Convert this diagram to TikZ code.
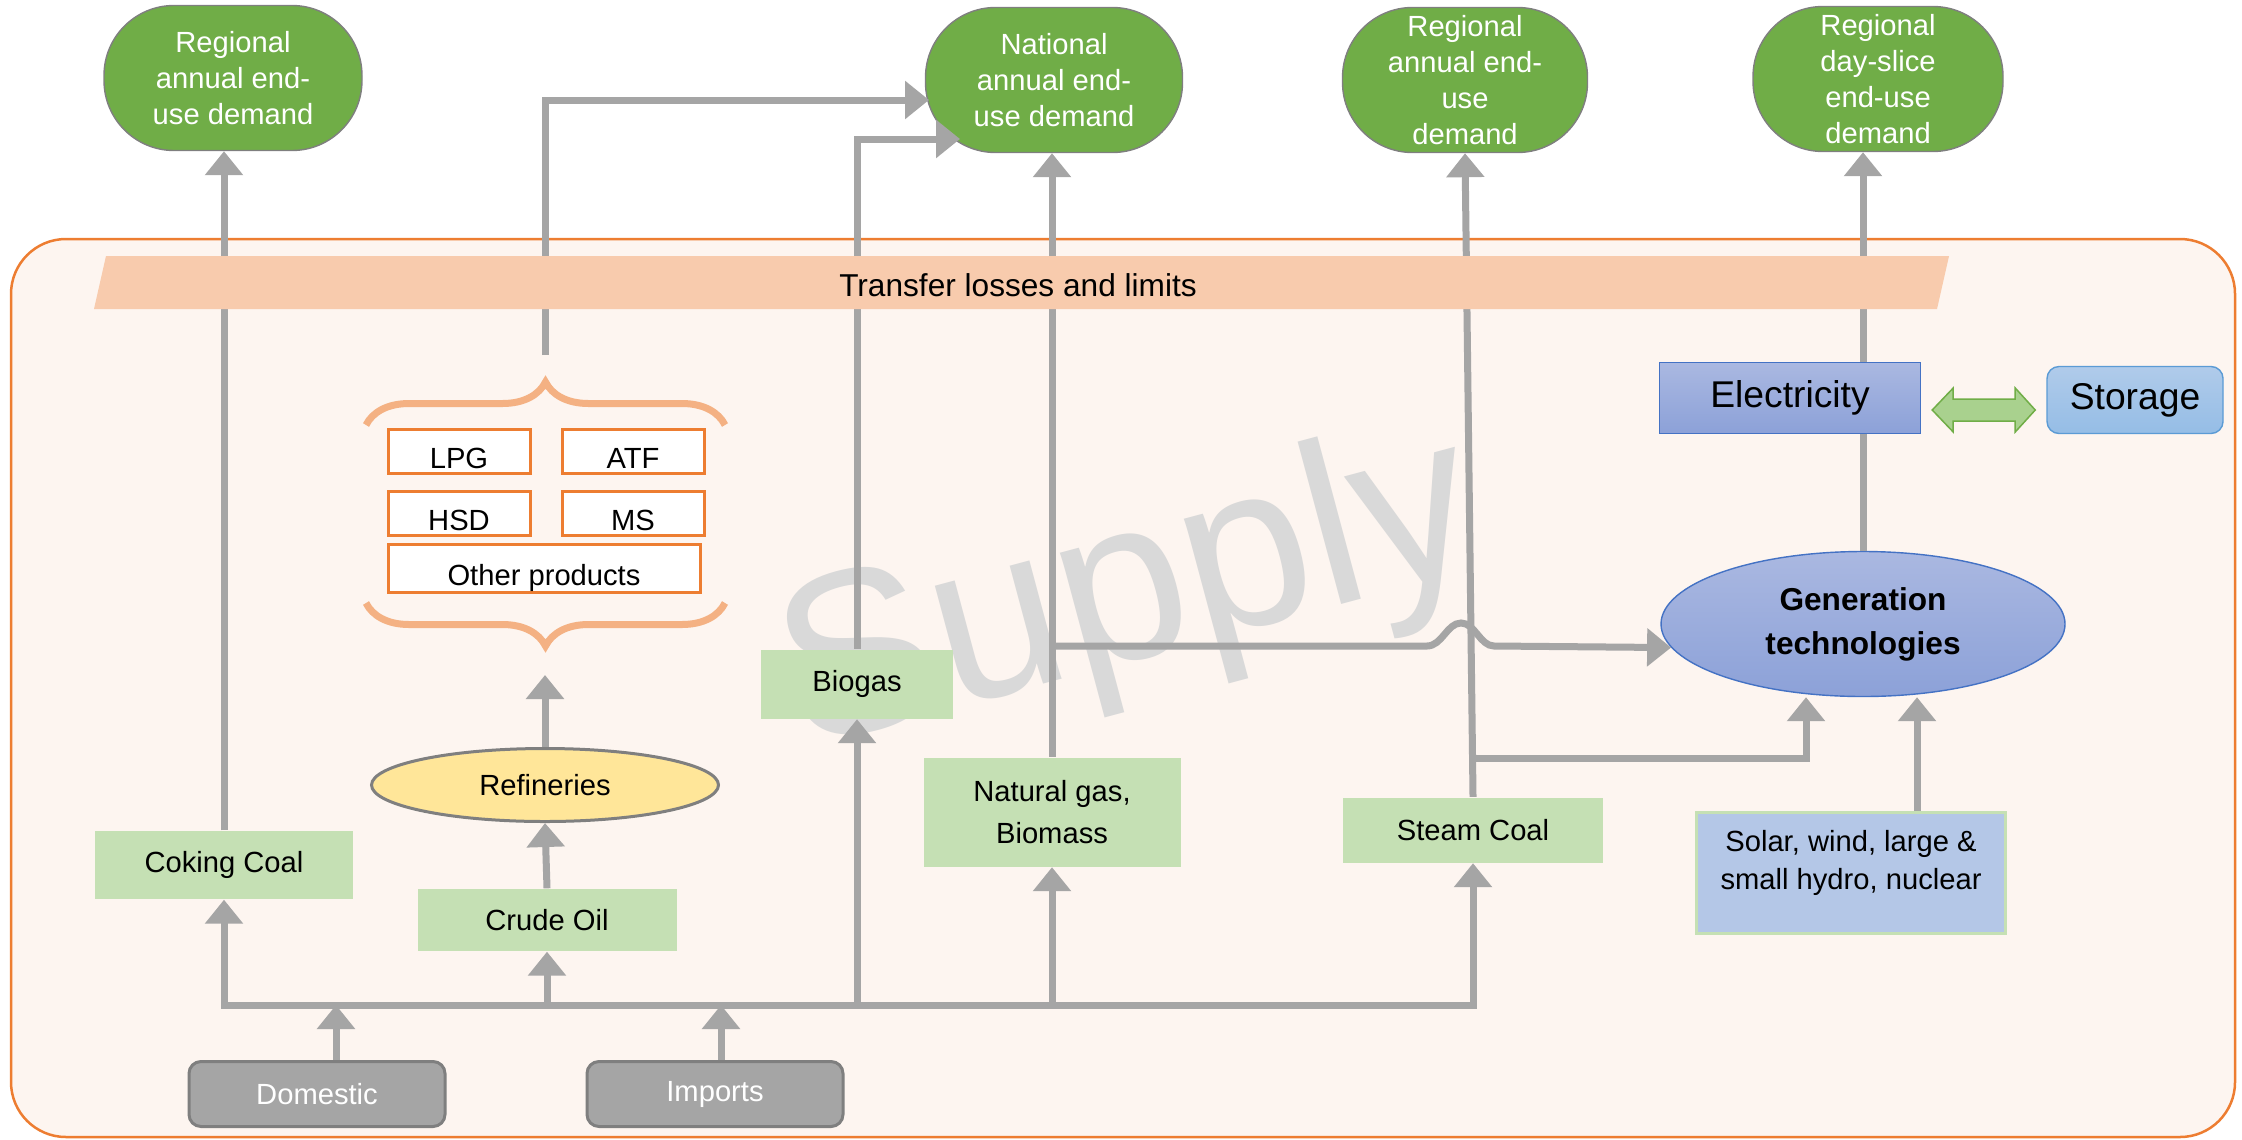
\documentclass[tikz,border=0pt]{standalone}
\usepackage{fontspec}
\setmainfont{Liberation Sans}
\usepackage{xcolor}
\usetikzlibrary{arrows.meta,shapes.geometric,decorations.pathreplacing,positioning,calc}

\definecolor{supfill}{HTML}{FDF5F0}
\definecolor{suporange}{HTML}{ED7D31}
\definecolor{demgreen}{HTML}{70AD47}
\definecolor{srcgreen}{HTML}{C5E0B4}
\definecolor{bandpeach}{HTML}{F8CBAD}
\definecolor{bracepeach}{HTML}{F4B183}
\definecolor{flowgray}{HTML}{A5A5A5}
\definecolor{edgegray}{HTML}{7F7F7F}
\definecolor{electop}{HTML}{AAB8E1}
\definecolor{elecbot}{HTML}{8CA1D8}
\definecolor{elecline}{HTML}{4472C4}
\definecolor{stortop}{HTML}{B0CBEA}
\definecolor{storbot}{HTML}{95BDE6}
\definecolor{storline}{HTML}{5B9BD5}
\definecolor{solarblue}{HTML}{B4C7E7}
\definecolor{refyellow}{HTML}{FFE699}
\definecolor{dblgreen}{HTML}{A9D18E}
\definecolor{markgray}{HTML}{D9D9D9}

\begin{document}
\begin{tikzpicture}[x=0.1mm, y=-0.1mm, font=\fontsize{8.3}{10.2}\selectfont,
        demand/.style = {draw=edgegray, fill=demgreen, text=white, rounded corners=7mm, align=center, minimum height=14.5mm, inner sep=0pt},
        src/.style = {fill=srcgreen, align=center, inner sep=0pt},
        prod/.style = {draw=suporange, line width=0.3mm, fill=white, minimum width=14.2mm, minimum height=4.4mm, inner sep=0pt, text height=3.4mm, text depth=0pt},
        origin/.style = {draw=edgegray, line width=0.3mm, fill=flowgray, text=white, rounded corners=1.2mm, minimum width=25.6mm, minimum height=6.5mm},
        elecbox/.style = {draw=elecline, top color=electop, bottom color=elecbot},
        pipe/.style = {draw=flowgray, line width=0.7mm},
        flow/.style = {pipe, -{Triangle[width=3.7mm,length=2.4mm]}}]
        \useasboundingbox (0,0) rectangle (2242,1139);
        \draw[suporange, line width=0.25mm, fill=supfill, rounded corners=5.5mm] (11,239) rectangle (2235,1137);
        \node[text=markgray, font=\fontsize{66}{66}\selectfont, rotate=15, inner sep=0pt] (mark) at (1130,599) {Supply};

        \node[demand, minimum width=25.8mm] (d1) at (233,78) {Regional\\annual end-\\use demand};
        \node[demand, minimum width=25.7mm] (d2) at (1054,80) {National\\annual end-\\use demand};
        \node[demand, minimum width=24.5mm] (d3) at (1465,80) {Regional\\annual end-\\use\\demand};
        \node[demand, minimum width=25mm] (d4) at (1878,79) {Regional\\day-slice\\end-use\\demand};

        \node[elecbox, minimum width=26.1mm, minimum height=7.1mm, font=\fontsize{10.6}{12}\selectfont] (elec) at (1790,398) {Electricity};
        \node[draw=storline, top color=stortop, bottom color=storbot, rounded corners=1.2mm, minimum width=17.6mm, minimum height=6.7mm, font=\fontsize{10.6}{12}\selectfont] (stor) at (2135,400) {Storage};
        \node[elecbox, ellipse, minimum width=40.4mm, minimum height=14.5mm, align=center, font=\bfseries\fontsize{9}{12.5}\selectfont] (gen) at (1863,624) {Generation\\technologies};
        \node[draw=srcgreen, fill=solarblue, line width=0.3mm, minimum width=30.9mm, minimum height=12.1mm, align=center, text depth=2.6mm, font=\fontsize{8.3}{10.9}\selectfont] (solar) at (1851,873) {Solar, wind, large \&\\small hydro, nuclear};

        \node[src, minimum width=25.8mm, minimum height=6.8mm] (cc) at (224,865) {Coking Coal};
        \node[src, minimum width=25.9mm, minimum height=6.2mm] (crude) at (547,920) {Crude Oil};
        \node[draw=edgegray, fill=refyellow, ellipse, line width=0.3mm, minimum width=34.7mm, minimum height=7.3mm, inner sep=0pt] (ref) at (545,785) {Refineries};
        \node[src, minimum width=19.2mm, minimum height=6.9mm] (bg) at (857,684) {Biogas};
        \node[src, minimum width=25.7mm, minimum height=10.9mm, font=\fontsize{8.3}{12}\selectfont] (ng) at (1052,812) {Natural gas,\\Biomass};
        \node[src, minimum width=26mm, minimum height=6.5mm] (sc) at (1473,830) {Steam Coal};
        \node[origin] (dom) at (317,1094) {Domestic};
        \node[origin] (imp) at (715,1094) {Imports};

        \node[prod] (lpg) at (459,451) {LPG};
        \node[prod] (atf) [right=2.9mm of lpg] {ATF};
        \node[prod] (hsd) [below=1.5mm of lpg] {HSD};
        \node[prod] (ms) [right=2.9mm of hsd] {MS};
        \node[prod, minimum width=31.2mm, minimum height=4.8mm] (other) at (544,568) {Other products};
        \draw[bracepeach, line width=0.7mm, decorate, decoration={brace, amplitude=4.3mm}] (366,425) -- (725,425);
        \draw[bracepeach, line width=0.7mm, decorate, decoration={brace, amplitude=4.3mm}] (725,603) -- (366,603);

        \coordinate (bus) at (0,1005);
        \coordinate (refout) at (545,675);
        \coordinate (prodtop) at (545,355);
        \coordinate (natin1) at (929,100);
        \coordinate (natin2) at (960,139);
        \coordinate (hopa) at (1427,646);
        \coordinate (hopb) at (1494,646);
        \coordinate (scj) at (1472,758);

        \draw[pipe, line cap=rect] (cc.south |- bus) -- (sc.south |- bus);
        \draw[flow] ([xshift=1.9mm]dom.north) -- ([xshift=1.9mm]dom.north |- bus);
        \draw[flow] ([xshift=0.6mm]imp.north) -- ([xshift=0.6mm]imp.north |- bus);
        \draw[flow] (cc.south |- bus) -- (cc.south);
        \draw[flow] (crude.south |- bus) -- (crude.south);
        \draw[flow] (bg.south |- bus) -- (bg.south);
        \draw[flow] (ng.south |- bus) -- (ng.south);
        \draw[flow] (sc.south |- bus) -- (sc.south);
        \draw[flow] (cc.north) -- (cc.north |- d1.south);
        \draw[flow] (crude.north) -- (ref.south);
        \draw[flow] (ref.north) -- (refout);
        \draw[flow] (prodtop) |- (natin1);
        \draw[flow] (bg.north) |- (natin2);
        \draw[flow] (ng.north) -- (ng.north |- d2.south);
        \draw[flow] (sc.north) -- (d3.south);
        \draw[flow] (ng.north |- hopa) -- (hopa) .. controls (1442,646) and (1447,623) .. (1461,623) .. controls (1475,623) and (1480,646) .. (hopb) -- (gen.187);
        \draw[flow] (scj) -| ([xshift=-5.7mm]gen.south);
        \draw[flow] ([xshift=6.6mm]solar.north) -- ([xshift=6.6mm]solar.north |- gen.south);
        \draw[pipe] (gen.north) -- (gen.north |- elec.south);
        \draw[flow] (gen.north |- elec.north) -- (gen.north |- d4.south);
        \filldraw[fill=dblgreen, draw=demgreen, line width=0.15mm] ($(elec.east)+(11,12)$) -- ++(21,-22) -- ++(0,11) -- ++(62,0) -- ++(0,-11) -- ++(20,22) -- ++(-20,22) -- ++(0,-11) -- ++(-62,0) -- ++(0,11) -- cycle;

        \fill[bandpeach] (94,309) -- (106,256) -- (1949,256) -- (1937,309) -- cycle;
        \node[font=\fontsize{9}{11}\selectfont] (band) at (1018,285) {Transfer losses and limits};
    \end{tikzpicture}
\end{document}
